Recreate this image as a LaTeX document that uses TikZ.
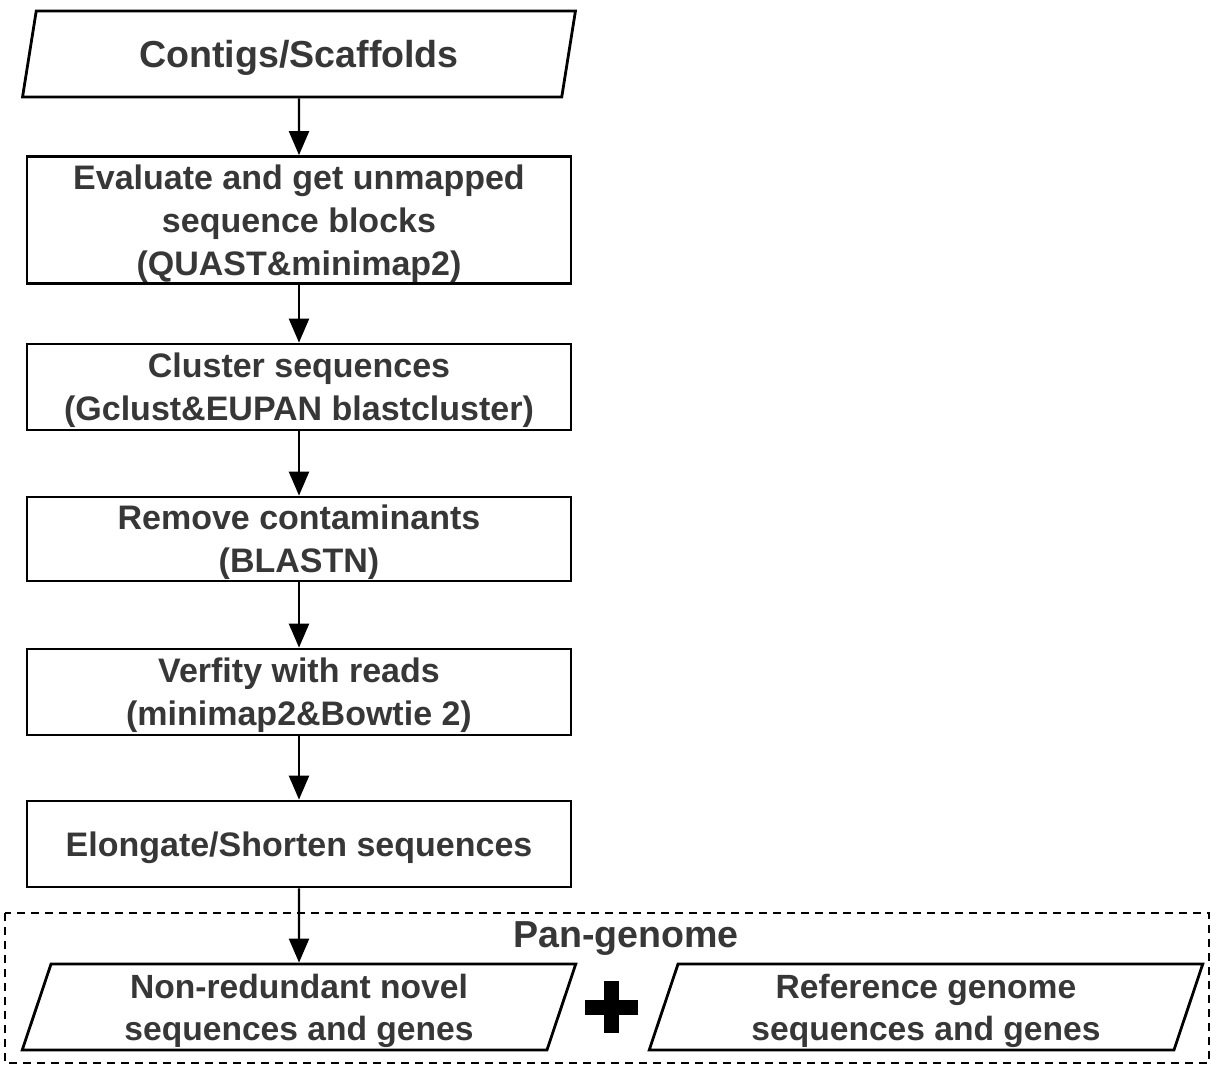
\documentclass[tikz,border=0pt]{standalone}
\usepackage{fontspec}
\setmainfont{Liberation Sans}
\usetikzlibrary{arrows.meta,shapes.geometric}
\definecolor{txtgray}{HTML}{373737}

\begin{document}
\begin{tikzpicture}[x=0.5pt,y=-0.5pt]

	\tikzset{
		flowtext/.style={text=txtgray,font=\bfseries\fontsize{17}{21.5}\selectfont,align=center,text depth=0pt},
		procbox/.style={flowtext,draw=black,line width=1.4pt,rectangle,minimum width=272pt,inner sep=0pt},
		databox/.style={flowtext,draw=black,line width=1.4pt,trapezium,trapezium left angle=73,trapezium right angle=107,trapezium stretches=true,minimum width=277pt,minimum height=43pt,inner sep=0pt},
		flowarrow/.style={line width=1.2pt,-{Triangle[width=10pt,length=12pt]}}
	}

	\useasboundingbox (0,0) rectangle (1212,1066);

	% main chain
	\node[databox,font=\bfseries\fontsize{18.8}{21}\selectfont] (contigs) at (299,54) {Contigs/Scaffolds};
	\node[procbox,minimum height=63.5pt] (evaluate) at (299,220) {Evaluate and get unmapped\\sequence blocks\\(QUAST\&minimap2)};
	\node[procbox,minimum height=43pt] (cluster) at (299,387) {Cluster sequences\\(Gclust\&EUPAN blastcluster)};
	\node[procbox,minimum height=42pt] (remove) at (299,539) {Remove contaminants\\(BLASTN)};
	\node[procbox,minimum height=43pt] (verify) at (299,692) {Verfity with reads\\(minimap2\&Bowtie 2)};
	\node[procbox,minimum height=43pt] (elongate) at (299,844) {Elongate/Shorten sequences};

	% pan-genome group
	\draw[line width=1pt,dash pattern=on 4pt off 3pt] (5,913) rectangle (1209,1063);
	\node[flowtext,font=\bfseries\fontsize{18.8}{21}\selectfont] (pangenome) at (626,935) {Pan-genome};
	\node[databox,font=\bfseries\fontsize{16.8}{21}\selectfont] (novel) at (299,1007) {Non-redundant novel\\sequences and genes};
	\node[databox,font=\bfseries\fontsize{16.8}{21}\selectfont] (refgenome) at (926,1007) {Reference genome\\sequences and genes};

	\draw[line width=7.5pt] (585,1007.5) -- (638,1007.5);
	\draw[line width=7.5pt] (611.5,981) -- (611.5,1033);

	\draw[flowarrow] (contigs) -- (evaluate);
	\draw[flowarrow] (evaluate) -- (cluster);
	\draw[flowarrow] (cluster) -- (remove);
	\draw[flowarrow] (remove) -- (verify);
	\draw[flowarrow] (verify) -- (elongate);
	\draw[flowarrow] (elongate) -- (novel);

\end{tikzpicture}
\end{document}
